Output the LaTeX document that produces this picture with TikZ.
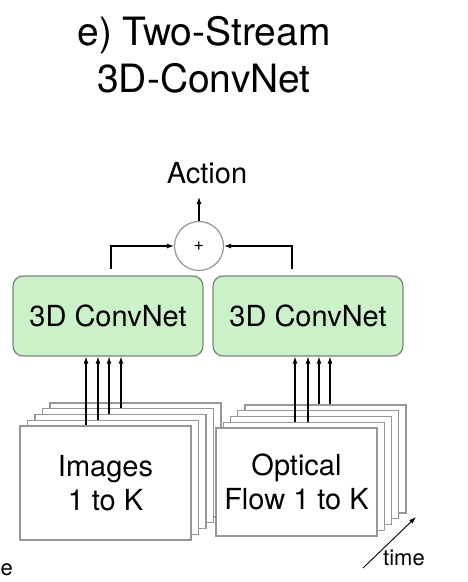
\documentclass[tikz,border=0pt]{standalone}
\usepackage{fontspec}
\setmainfont{TeX Gyre Heros}
\usetikzlibrary{arrows.meta}
\definecolor{framegray}{RGB}{150,150,150}
\definecolor{netgreen}{RGB}{202,241,200}
\begin{document}
\begin{tikzpicture}[x=1pt,y=-1pt,
        frame/.style={draw=framegray,fill=white,line width=1.2pt,inner sep=0pt,align=center,font=\fontsize{29}{34}\selectfont},
        net/.style={draw=gray,fill=netgreen,line width=1.2pt,rounded corners=10pt,minimum width=190pt,minimum height=80pt,font=\fontsize{29}{34}\selectfont},
        arr/.style={-{Latex[length=7pt,width=5pt]},line width=1.1pt}]
                \useasboundingbox (0,0) rectangle (467,582);
                \node[font=\fontsize{39}{47}\selectfont,align=center] (title) at (204,55) {e) Two-Stream\\3D-ConvNet};
                % image stack
                \foreach \k in {4,3,2,1}
                    \node[frame,minimum width=171pt,minimum height=114pt] (img\k) at (105.5+7.5*\k,483-5.75*\k) {};
                \node[frame,minimum width=171pt,minimum height=114pt] (img0) at (105.5,483) {Images\\1 to K};
                % flow stack
                \foreach \k in {4,3,2,1}
                    \node[frame,minimum width=161pt,minimum height=108pt] (flow\k) at (296.5+7.25*\k,482-5.75*\k) {};
                \node[frame,minimum width=161pt,minimum height=108pt] (flow0) at (296.5,482) {Optical\\Flow 1 to K};
                \node[net] (conv1) at (108,316) {3D ConvNet};
                \node[net] (conv2) at (308,316) {3D ConvNet};
                \node[circle,draw=framegray,fill=white,line width=1.2pt,minimum size=49pt,inner sep=0pt,font=\fontsize{18}{18}\selectfont] (plus) at (199,246) {+};
                \node[font=\fontsize{29}{29}\selectfont,anchor=base] (act) at (207,183) {Action};
                \coordinate (out) at (199,197);
                \coordinate (l1) at (111,269);
                \coordinate (l2) at (292,269);
                \draw[arr] (plus) -- (out);
                \draw[arr] (l1) |- (plus);
                \draw[arr] (l2) |- (plus);
                \foreach \x/\k in {86/0,98/1,109/2,121/3}
                    \draw[arr] (\x,0 |- img\k.north) -- (\x,0 |- conv1.south);
                \foreach \x/\k in {295/1,308/1,319/4,330/4}
                    \draw[arr] (\x,0 |- flow\k.north) -- (\x,0 |- conv2.south);
                % time axis
                \coordinate (t0) at (363,568);
                \coordinate (t1) at (416,517);
                \draw[arr,line width=0.9pt] (t0) -- (t1);
                \node[font=\fontsize{22}{22}\selectfont,anchor=base west,inner sep=0pt] (time) at (383,565) {time};
                \node[font=\fontsize{22}{22}\selectfont,anchor=base east,inner sep=0pt] (e) at (13,575) {e};
\end{tikzpicture}
\end{document}
